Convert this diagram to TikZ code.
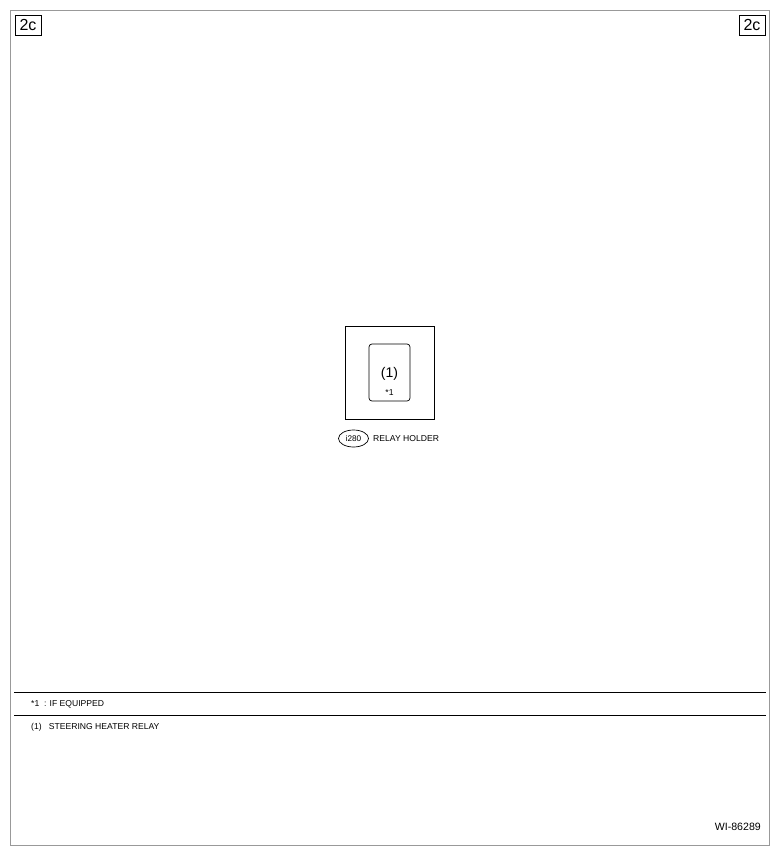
\documentclass[tikz,border=0pt]{standalone}
\usepackage{fontspec}
\setmainfont{Liberation Sans}
\usetikzlibrary{shapes.geometric}
\begin{document}
\begin{tikzpicture}[x=1pt,y=-1pt,
  tag/.style={draw=black,line width=0.8pt,inner sep=0pt,minimum width=26pt,minimum height=20pt,font=\fontsize{16}{16}\selectfont},
  small/.style={font=\fontsize{8.6}{8.6}\selectfont,inner sep=0pt},
  rule/.style={draw=black,line width=0.7pt}]
\useasboundingbox (0,0) rectangle (779,854);
\draw[gray!80,line width=0.8pt] (10,10) rectangle (769,845);
\node[tag] (tl) at (28,25) {2c};
\node[tag] (tr) at (752,25) {2c};
\node[draw=black,line width=0.7pt,minimum width=89pt,minimum height=93pt,inner sep=0pt] (holder) at (389.5,372.5) {};
\node[draw=black,line width=0.7pt,rounded corners=3pt,minimum width=41pt,minimum height=57pt,inner sep=0pt] (relay) at (389.5,372.5) {};
\node[font=\fontsize{14}{14}\selectfont,inner sep=0pt] (num) at (389.5,374) {(1)};
\node[small] (star) at (389.5,393) {*1};
\node[draw=black,line width=0.7pt,ellipse,minimum width=30pt,minimum height=17pt,inner sep=0pt,font=\fontsize{8.2}{8.2}\selectfont] (conn) at (353.5,438.5) {i280};
\node[small,anchor=west] (lbl) at (373,439) {RELAY HOLDER};
\coordinate (l1a) at (14,692);
\coordinate (l1b) at (766,692);
\coordinate (l2a) at (14,715);
\coordinate (l2b) at (766,715);
\draw[rule] (l1a) -- (l1b);
\draw[rule] (l2a) -- (l2b);
\node[small,anchor=west] (n1) at (31,704) {*1\ \ : IF EQUIPPED};
\node[small,anchor=west] (n2) at (31,727) {(1)\ \ \ STEERING HEATER RELAY};
\node[font=\fontsize{10.6}{10.6}\selectfont,inner sep=0pt,anchor=east] (code) at (761,827) {WI-86289};
\end{tikzpicture}
\end{document}
